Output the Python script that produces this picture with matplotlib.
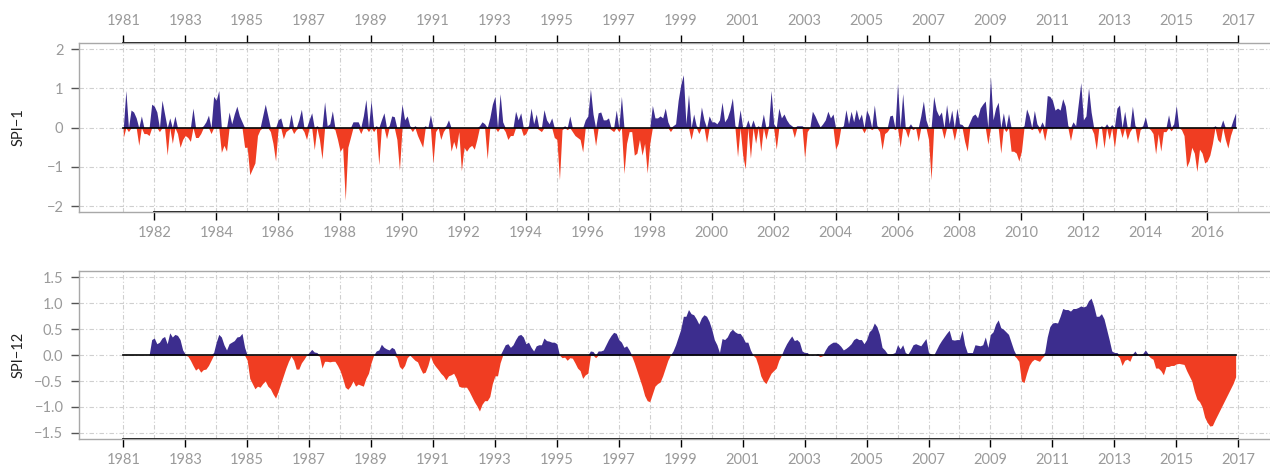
import numpy as np
import matplotlib
matplotlib.use("Agg")
import matplotlib.pyplot as plt

plt.rcParams['font.family'] = ['Lato', 'DejaVu Sans']

# monthly SPI values, Jan 1981 - Dec 2016 (one row per year)
spi1 = [
    -0.25, 0.95, -0.1, 0.45, 0.4, 0.25, -0.45, 0.3, -0.15, -0.15, -0.2, 0.6,      # 1981
    0.55, 0.4, -0.1, 0.7, 0.35, -0.7, 0.25, -0.4, 0.3, -0.15, -0.5, -0.3,         # 1982
    -0.2, -0.25, -0.35, 0.5, -0.25, -0.25, -0.15, 0.05, 0.15, 0.32, -0.15, 0.8,   # 1983
    0.7, 0.95, -0.63, -0.45, -0.6, 0.4, 0.1, 0.35, 0.55, 0.3, 0.15, -0.5,         # 1984
    -0.5, -1.2, -1.05, -0.9, -0.2, -0.05, 0.3, 0.6, 0.3, -0.1, -0.4, -0.85,       # 1985
    0.2, 0.25, -0.28, -0.1, -0.05, 0.35, -0.15, -0.05, 0.2, 0.47, -0.1, -0.3,     # 1986
    0.2, 0.38, -0.56, 0.05, -0.3, -0.8, 0.66, 0.05, 0.1, 0.43, -0.05, -0.3,       # 1987
    -0.6, -0.5, -1.85, -0.5, -0.25, 0.15, 0.15, 0.15, -0.15, 0.3, 0.72, -0.1,     # 1988
    0.7, -0.1, 0.05, -0.95, 0.2, 0.38, -0.28, 0.05, 0.3, 0.28, -0.3, -1.08,       # 1989
    0.6, 0.2, 0.3, 0.05, -0.1, 0.05, -0.2, -0.35, -0.5, 0.05, 0.0, 0.33,          # 1990
    -0.9, -0.1, 0.03, -0.3, -0.1, 0.05, 0.2, -0.6, -0.35, -0.55, -0.1, -1.1,      # 1991
    -0.5, -0.6, -0.5, -0.45, -0.55, -0.3, 0.05, 0.15, 0.1, -0.8, 0.25, 0.6,       # 1992
    0.8, -0.1, 0.87, 0.15, -0.1, -0.3, -0.2, -0.2, 0.42, 0.2, 0.38, -0.2,         # 1993
    -0.15, 0.05, 0.5, 0.1, 0.35, -0.05, -0.1, 0.46, 0.2, 0.1, 0.25, -0.25,        # 1994
    -0.3, -1.33, -0.05, 0.05, -0.05, 0.3, -0.1, -0.2, -0.25, -0.3, -0.62, 0.2,    # 1995
    0.3, 0.99, 0.35, -0.46, 0.38, 0.4, 0.2, 0.2, 0.25, -0.05, -0.1, 0.45,         # 1996
    -0.1, 0.8, -1.17, -0.4, -0.1, -0.1, -0.7, -0.65, -0.3, -0.7, -0.4, -1.16,     # 1997
    -0.4, 0.57, 0.25, 0.25, 0.3, 0.25, 0.5, 0.15, -0.1, 0.05, 0.1, 0.7,           # 1998
    1.1, 1.35, 0.1, 0.85, -0.3, 0.35, 0.05, -0.15, 0.53, 0.2, -0.38, 0.3,         # 1999
    0.15, 0.15, 0.1, 0.2, 0.65, 0.15, 0.25, 0.45, 0.76, 0.05, -0.74, 0.46,        # 2000
    -0.7, -1.05, 0.2, -0.78, 0.2, -0.4, 0.05, -0.6, 0.35, -0.3, 0.05, 0.95,       # 2001
    0.1, -0.55, 0.5, 0.25, 0.35, 0.2, 0.1, 0.05, -0.25, 0.05, 0.05, 0.05,         # 2002
    -0.78, -0.1, 0.0, 0.42, 0.3, 0.15, 0.02, 0.1, 0.2, 0.42, 0.25, 0.35,          # 2003
    -0.55, -0.4, 0.0, 0.05, 0.46, 0.1, 0.42, 0.15, 0.47, 0.2, 0.35, -0.13,        # 2004
    0.45, 0.3, -0.05, 0.58, 0.05, -0.1, -0.56, -0.15, -0.1, 0.3, 0.32, -0.05,     # 2005
    1.14, -0.5, 0.87, -0.05, -0.25, 0.1, -0.05, 0.0, -0.35, 0.3, 0.68, 0.2,       # 2006
    -0.3, -1.33, 0.8, 0.45, 0.3, 0.4, -0.28, 0.59, 0.1, 0.45, -0.32, 0.5,         # 2007
    0.1, 0.08, -0.35, -0.6, 0.15, 0.3, 0.35, 0.25, 0.5, 0.6, 0.68, -0.42,         # 2008
    1.3, 0.2, 0.5, 0.65, -0.65, 0.38, -0.1, 0.36, -0.6, -0.6, -0.65, -0.85,       # 2009
    -0.6, 0.05, 0.48, 0.3, -0.05, 0.44, 0.1, -0.15, 0.15, -0.33, 0.82, 0.8,       # 2010
    0.7, 0.45, 0.5, 0.45, 0.74, 0.55, 0.05, -0.33, 0.15, 0.05, 0.6, 1.15,         # 2011
    0.2, 0.3, 1.02, 0.4, -0.15, -0.56, 0.0, 0.05, -0.52, 0.1, -0.3, 0.08,         # 2012
    -0.52, 0.5, 0.58, -0.25, 0.42, -0.3, -0.1, 0.55, 0.05, -0.4, -0.05, 0.05,     # 2013
    0.28, 0.0, -0.05, -0.15, -0.67, -0.15, -0.6, -0.1, -0.1, 0.33, -0.08, 0.1,    # 2014
    0.57, 0.0, -0.05, -0.2, -1.0, -0.85, -0.5, -0.65, -1.12, -0.55, -0.65, -0.9,  # 2015
    -0.85, -0.7, -0.4, 0.05, -0.3, -0.38, 0.2, -0.3, -0.52, -0.2, 0.2, 0.38,      # 2016
]

nan = np.nan
spi12 = [
    nan, nan, nan, nan, nan, nan, nan, nan, nan, nan, nan, 0.3,                   # 1981
    0.33, 0.22, 0.25, 0.33, 0.36, 0.22, 0.43, 0.35, 0.4, 0.38, 0.3, 0.1,          # 1982
    0.02, -0.02, -0.1, -0.2, -0.29, -0.25, -0.33, -0.28, -0.27, -0.2, -0.1, 0.05, # 1983
    0.25, 0.4, 0.35, 0.2, 0.1, 0.22, 0.25, 0.28, 0.35, 0.36, 0.42, 0.15,          # 1984
    -0.1, -0.45, -0.55, -0.65, -0.6, -0.62, -0.55, -0.5, -0.6, -0.65, -0.75, -0.83,  # 1985
    -0.7, -0.55, -0.4, -0.25, -0.12, -0.02, -0.1, -0.27, -0.27, -0.15, -0.08, 0.0,   # 1986
    0.05, 0.11, 0.06, 0.05, -0.02, -0.25, -0.12, -0.12, -0.13, -0.12, -0.12, -0.2,   # 1987
    -0.3, -0.45, -0.62, -0.66, -0.6, -0.5, -0.6, -0.56, -0.58, -0.6, -0.45, -0.35,   # 1988
    -0.15, 0.0, 0.08, 0.1, 0.21, 0.15, 0.12, 0.1, 0.15, 0.12, -0.05, -0.22,       # 1989
    -0.27, -0.2, -0.05, 0.02, -0.05, -0.1, -0.13, -0.25, -0.35, -0.33, -0.2, -0.02,  # 1990
    -0.15, -0.22, -0.28, -0.35, -0.4, -0.48, -0.4, -0.38, -0.35, -0.45, -0.6, -0.62, # 1991
    -0.62, -0.62, -0.7, -0.8, -0.9, -0.98, -1.08, -0.95, -0.88, -0.88, -0.8, -0.55,  # 1992
    -0.4, -0.4, -0.15, 0.1, 0.2, 0.22, 0.15, 0.2, 0.3, 0.38, 0.4, 0.35,           # 1993
    0.22, 0.25, 0.15, 0.08, 0.18, 0.2, 0.2, 0.33, 0.28, 0.27, 0.25, 0.25,         # 1994
    0.22, 0.0, -0.05, -0.04, -0.1, -0.05, -0.06, -0.15, -0.25, -0.3, -0.45, -0.38,   # 1995
    -0.35, 0.08, 0.07, -0.05, 0.08, 0.08, 0.1, 0.2, 0.3, 0.38, 0.44, 0.42,        # 1996
    0.3, 0.25, 0.15, 0.18, 0.1, -0.02, -0.15, -0.3, -0.45, -0.6, -0.78, -0.88,    # 1997
    -0.9, -0.75, -0.6, -0.55, -0.52, -0.4, -0.25, -0.1, 0.0, 0.08, 0.2, 0.35,     # 1998
    0.5, 0.75, 0.75, 0.88, 0.8, 0.78, 0.7, 0.6, 0.72, 0.78, 0.75, 0.65,           # 1999
    0.5, 0.3, 0.2, 0.05, 0.32, 0.3, 0.35, 0.45, 0.5, 0.45, 0.42, 0.42,            # 2000
    0.35, 0.25, 0.25, 0.1, 0.0, -0.05, -0.2, -0.4, -0.5, -0.55, -0.45, -0.35,     # 2001
    -0.3, -0.25, -0.1, 0.0, 0.12, 0.22, 0.3, 0.37, 0.28, 0.3, 0.25, 0.08,         # 2002
    0.05, 0.05, 0.0, 0.01, 0.0, 0.03, -0.03, -0.01, 0.1, 0.18, 0.22, 0.25,        # 2003
    0.25, 0.22, 0.17, 0.1, 0.13, 0.17, 0.22, 0.3, 0.33, 0.3, 0.3, 0.22,           # 2004
    0.3, 0.45, 0.5, 0.62, 0.55, 0.4, 0.15, 0.1, 0.03, 0.02, 0.03, 0.05,           # 2005
    0.2, 0.12, 0.2, 0.05, 0.02, 0.1, 0.2, 0.22, 0.2, 0.18, 0.25, 0.32,            # 2006
    0.05, 0.02, 0.0, 0.1, 0.2, 0.28, 0.35, 0.42, 0.48, 0.3, 0.29, 0.3,            # 2007
    0.3, 0.48, 0.2, 0.05, 0.05, 0.05, 0.2, 0.19, 0.18, 0.2, 0.35, 0.15,           # 2008
    0.4, 0.45, 0.6, 0.68, 0.53, 0.5, 0.45, 0.4, 0.25, 0.1, -0.05, -0.12,          # 2009
    -0.5, -0.53, -0.35, -0.2, -0.12, -0.08, -0.1, -0.12, -0.05, 0.05, 0.35, 0.55, # 2010
    0.62, 0.63, 0.62, 0.75, 0.9, 0.88, 0.88, 0.85, 0.9, 0.9, 0.92, 0.95,          # 2011
    0.93, 0.95, 1.05, 1.1, 0.95, 0.75, 0.75, 0.8, 0.7, 0.5, 0.3, 0.08,            # 2012
    0.05, 0.05, -0.05, -0.2, -0.1, -0.08, -0.12, 0.02, 0.08, 0.0, 0.02, 0.03,     # 2013
    0.1, 0.03, -0.05, -0.08, -0.25, -0.25, -0.3, -0.38, -0.22, -0.22, -0.2, -0.2, # 2014
    -0.17, -0.16, -0.17, -0.18, -0.3, -0.4, -0.5, -0.7, -0.85, -0.9, -1.0, -1.2,  # 2015
    -1.3, -1.37, -1.36, -1.25, -1.15, -1.05, -0.95, -0.85, -0.75, -0.65, -0.55, -0.42,  # 2016
]

start_year = 1981
labels = ['SPI\u22121', 'SPI\u221212']
yticks_top = [-2, -1, 0, 1, 2]
yticks_bot = [-1.5, -1.0, -0.5, 0.0, 0.5, 1.0, 1.5]

blue = '#3c2d8e'
red = '#f03d22'
gray_txt = '#9a9a9a'
box_col = '#a8a8a8'

t = start_year + np.arange(len(spi1)) / 12.0
years = np.arange(1981, 2018)
odd_years = years[years % 2 == 1]
even_years = years[years % 2 == 0]

fig = plt.figure(figsize=(12.7, 4.67), dpi=100)
W, H = 1270.0, 467.0
xlim = (1979.56, 2018.36)
ax_w_px = (xlim[1] - xlim[0]) * 30.97
ax_w = ax_w_px / W

ax1 = fig.add_axes([78.7 / W, 1 - 212 / H, ax_w, 169 / H])
ax2 = fig.add_axes([78.7 / W, 1 - 439 / H, ax_w, 168.3 / H])


def style_axis(ax, vals, ylim, yticks, ylabel, yfmt):
    v = np.nan_to_num(np.array(vals, dtype=float))
    ax.fill_between(t, 0, np.maximum(v, 0), color=blue, lw=0)
    ax.fill_between(t, np.minimum(v, 0), 0, color=red, lw=0)
    ax.plot([t[0], t[-1]], [0, 0], color='black', lw=1.2)
    ax.set_xlim(*xlim)
    ax.set_ylim(*ylim)
    ax.set_yticks(yticks)
    ax.set_yticklabels([yfmt(y).replace('-', '\u2212') for y in yticks])
    ax.set_axisbelow(True)
    ax.grid(True, which='both', color='#cfcfcf', lw=0.8, linestyle=(0, (4, 2, 1, 2)))
    for s in ax.spines.values():
        s.set_color(box_col)
        s.set_linewidth(1.0)
    ax.tick_params(axis='y', colors='#555555', labelcolor=gray_txt, labelsize=10.5,
                   length=6, width=1, pad=5)
    ax.tick_params(axis='x', which='major', colors='black', labelcolor=gray_txt,
                   labelsize=10.5, length=6, width=1, pad=4)
    ax.tick_params(axis='x', which='minor', length=0)
    ax.set_ylabel(ylabel, fontsize=10.5, color='#222222')
    ax.yaxis.set_label_coords((26 - 78.7) / ax_w_px, 0.5)


style_axis(ax1, spi1, (-2.15, 2.16), yticks_top, labels[0], lambda y: '%d' % y)
style_axis(ax2, spi12, (-1.62, 1.63), yticks_bot, labels[1], lambda y: '%.1f' % y)

# top panel: even years below, odd years on top
ax1.set_xticks(even_years)
ax1.set_xticks(odd_years, minor=True)
ax1.plot([even_years[0], even_years[-1]], [0, 0], color='black', lw=1.3,
         transform=ax1.get_xaxis_transform(), clip_on=False)
sec = ax1.secondary_xaxis('top')
sec.set_xticks(odd_years)
sec.tick_params(axis='x', colors='black', labelcolor=gray_txt, labelsize=10.5,
                length=6, width=1, pad=5)
sec.spines['top'].set_bounds(odd_years[0], odd_years[-1])
sec.spines['top'].set_color('black')
sec.spines['top'].set_linewidth(1.3)

# bottom panel: odd years below
ax2.set_xticks(odd_years)
ax2.set_xticks(even_years, minor=True)
ax2.plot([odd_years[0], odd_years[-1]], [0, 0], color='black', lw=1.3,
         transform=ax2.get_xaxis_transform(), clip_on=False)

fig.savefig('out.png', dpi=100)
